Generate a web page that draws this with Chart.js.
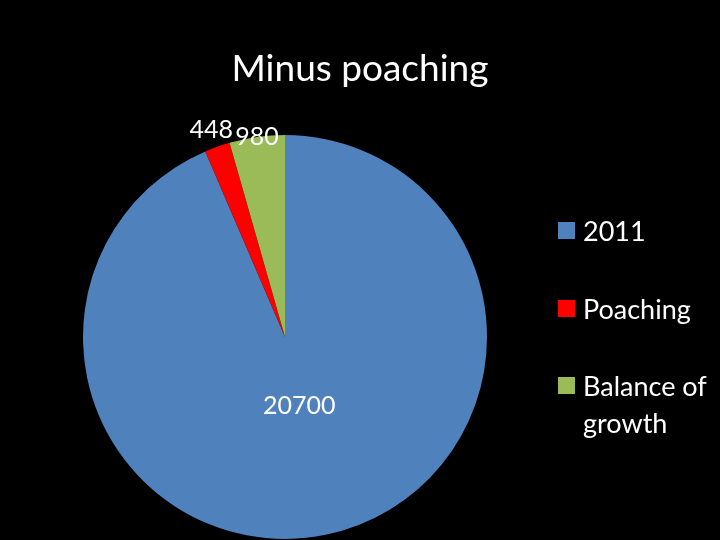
<!DOCTYPE html>
<html>
<head>
<meta charset="utf-8">
<script src="https://cdn.jsdelivr.net/npm/chart.js@4/dist/chart.umd.min.js"></script>
<style>
  body { margin: 0; background: #000; }
  #wrap { position: relative; width: 720px; height: 540px; font-family: Lato, "Open Sans", sans-serif; color: #fff; }
  #title { position: absolute; left: 0; width: 720px; top: 44px; text-align: center; font-size: 37px; }
  .leg { position: absolute; left: 558px; font-size: 27px; line-height: 37px; }
  .leg span { position: absolute; left: 0; top: 10px; width: 17px; height: 17px; }
  .leg div { margin-left: 25px; }
</style>
</head>
<body>
<div id="wrap">
  <canvas id="pie" width="720" height="540"></canvas>
  <div id="title">Minus poaching</div>
  <div id="legend"></div>
</div>
<script>
const categories = ['2011', 'Poaching', 'Balance of growth'];
const values = [20700, 448, 980];
const colors = ['#4f81bd', '#ff0000', '#9bbb59'];
const legendTexts = ['2011', 'Poaching', 'Balance of<br>growth'];

// legend (html)
const legendTops = [212, 290, 367];
const legend = document.getElementById('legend');
categories.forEach((c, i) => {
  const el = document.createElement('div');
  el.className = 'leg';
  el.style.top = legendTops[i] + 'px';
  el.innerHTML = '<span style="background:' + colors[i] + '"></span><div>' + legendTexts[i] + '</div>';
  legend.appendChild(el);
});

// value labels placed along each slice's mid angle
const labelRadius = [0.35, 1.09, 1.0];
const valueLabels = {
  id: 'valueLabels',
  afterDatasetsDraw(chart) {
    const ctx = chart.ctx;
    ctx.save();
    ctx.fillStyle = '#fff';
    ctx.font = '25px Lato, "Open Sans", sans-serif';
    ctx.textAlign = 'center';
    ctx.textBaseline = 'middle';
    chart.getDatasetMeta(0).data.forEach((arc, i) => {
      const p = arc.getProps(['x', 'y', 'startAngle', 'endAngle', 'outerRadius'], true);
      const mid = (p.startAngle + p.endAngle) / 2;
      const r = p.outerRadius * labelRadius[i];
      ctx.fillText(values[i], p.x + Math.cos(mid) * r, p.y + Math.sin(mid) * r);
    });
    ctx.restore();
  }
};

new Chart(document.getElementById('pie'), {
  type: 'pie',
  data: {
    labels: categories,
    datasets: [{ data: values, backgroundColor: colors, borderWidth: 0 }]
  },
  options: {
    responsive: false,
    animation: false,
    layout: { padding: { left: 83, right: 233, top: 135, bottom: 1 } },
    plugins: { legend: { display: false }, tooltip: { enabled: false } }
  },
  plugins: [valueLabels]
});
</script>
</body>
</html>
